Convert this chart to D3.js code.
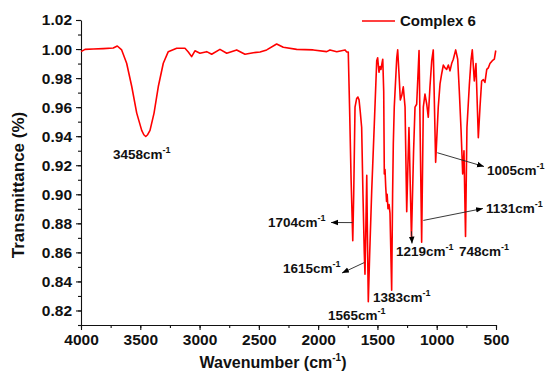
<!DOCTYPE html>
<html>
<head>
<meta charset="utf-8">
<script src="https://cdn.jsdelivr.net/npm/d3@7"></script>
<style>
  body { margin: 0; background: #fff; }
  text { font-family: "Liberation Sans", Arial, sans-serif; font-weight: bold; }
</style>
</head>
<body>
<div id="chart"></div>
<script>
// spectrum (wavenumber cm-1, transmittance)
var wavenumber = [4000, 3966, 3896, 3812, 3728, 3694, 3657, 3615, 3572, 3530, 3488, 3470, 3454, 3438, 3418, 3384, 3348, 3306, 3264,
    3193, 3123, 3095, 3067, 3039, 2997, 2940, 2898, 2828, 2771, 2687, 2617, 2547, 2490, 2434, 2350, 2294, 2181,
    2041, 1928, 1900, 1843, 1773, 1759,
    1746, 1735, 1722, 1708, 1700, 1689, 1675, 1665, 1655, 1645, 1633, 1622, 1611, 1605, 1597, 1590, 1584, 1577,
    1565, 1548, 1526, 1506, 1498, 1487, 1478, 1470, 1462, 1455, 1447, 1442, 1436, 1430, 1423, 1418, 1411, 1402,
    1394, 1380, 1372, 1366, 1358, 1337, 1329, 1318, 1307, 1295, 1282, 1267, 1253, 1243, 1234, 1213, 1195, 1183,
    1169, 1149, 1127, 1113, 1099, 1084, 1071, 1057, 1042, 1029, 1009, 987, 972, 958, 944, 930, 916, 902, 888,
    874, 860, 840, 823, 810, 795, 781, 770, 757, 745, 725, 711, 700, 683, 669, 649, 635, 621, 607, 593, 578,
    565, 551, 531, 514, 502];
var transmittance = [0.9982, 0.9998, 1.0000, 1.0003, 1.0007, 1.0021, 0.9994, 0.9902, 0.9742, 0.9559, 0.9440, 0.9410,
    0.9398, 0.9410, 0.9440, 0.9559, 0.9742, 0.9902, 0.9982,
    1.0005, 1.0005, 0.9980, 0.9948, 0.9988, 0.9971, 0.9982, 0.9964, 0.9998, 0.9971, 0.9994, 0.9964, 0.9975, 0.9980,
    0.9994, 1.0035, 1.0012, 0.9998, 0.9994, 0.9982, 0.9994, 0.9982, 0.9994, 0.9980,
    0.998, 0.960, 0.910, 0.868, 0.900, 0.960, 0.966, 0.967, 0.965, 0.957, 0.946, 0.900, 0.860, 0.845, 0.880, 0.913,
    0.870, 0.826, 0.860, 0.903, 0.949, 0.992, 0.994, 0.984, 0.988, 0.986, 0.990, 0.993, 0.971, 0.914, 0.917, 0.905,
    0.895, 0.900, 0.890, 0.893, 0.887, 0.834, 0.900, 0.935, 0.960, 0.994, 0.9994, 0.983, 0.965, 0.968, 0.974, 0.960,
    0.888, 0.920, 0.946, 0.870, 0.930, 0.960, 0.962, 0.999, 0.867, 0.960, 0.969, 0.962, 0.953, 0.974, 0.992, 0.9994,
    0.922, 0.960, 0.976, 0.983, 0.989, 0.987, 0.986, 0.989, 0.985, 0.990, 0.993, 0.9994, 0.993, 0.972, 0.945, 0.914,
    0.930, 0.871, 0.946, 0.975, 0.992, 0.9994, 0.978, 0.990, 0.939, 0.960, 0.978, 0.979, 0.977, 0.986, 0.987, 0.990,
    0.992, 0.993, 0.999];

var xTicks = [4000, 3500, 3000, 2500, 2000, 1500, 1000, 500];
var yTicks = [0.82, 0.84, 0.86, 0.88, 0.90, 0.92, 0.94, 0.96, 0.98, 1.00, 1.02];
var seriesName = 'Complex 6';

// peak labels
var peakLabels = ['3458', '1704', '1615', '1565', '1383', '1219', '1131', '1005', '748'];

var W = 555, H = 380;
var margin = {top: 20, bottom: 55, left: 81, right: 59};
var width = W - margin.left - margin.right,
    height = H - margin.top - margin.bottom;

var svg = d3.select('#chart').append('svg')
    .attr('width', W)
    .attr('height', H);

svg.append('defs').append('marker')
    .attr('id', 'arr')
    .attr('viewBox', '0 0 10 10')
    .attr('refX', 10)
    .attr('refY', 5)
    .attr('markerWidth', 7)
    .attr('markerHeight', 7)
    .attr('markerUnits', 'userSpaceOnUse')
    .attr('orient', 'auto')
    .append('path')
    .attr('d', 'M0,1L10,5L0,9Z')
    .attr('fill', '#000');

var g = svg.append('g')
    .attr('transform', 'translate(' + margin.left + ',' + margin.top + ')');

var x = d3.scaleLinear().domain([4000, 500]).range([0, width]);
var y = d3.scaleLinear().domain([0.81, 1.02]).range([height, 0]);

// minor ticks
var xMinor = d3.range(4000, 499, -250);
var yMinor = d3.range(81, 103, 1).map(function (d) { return d / 100; });

g.append('g')
    .attr('transform', 'translate(0,' + height + ')')
    .call(d3.axisBottom(x).tickValues(xMinor).tickSize(3).tickFormat(''))
    .call(function (s) { s.select('.domain').remove(); });

g.append('g')
    .call(d3.axisLeft(y).tickValues(yMinor).tickSize(3).tickFormat(''))
    .call(function (s) { s.select('.domain').remove(); });

var xAxis = g.append('g')
    .attr('class', 'x-axis')
    .attr('transform', 'translate(0,' + height + ')')
    .call(d3.axisBottom(x).tickValues(xTicks).tickSize(5).tickSizeOuter(0).tickPadding(4).tickFormat(d3.format('d')));

var yAxis = g.append('g')
    .attr('class', 'y-axis')
    .call(d3.axisLeft(y).tickValues(yTicks).tickSize(5).tickSizeOuter(0).tickPadding(4).tickFormat(d3.format('.2f')));

svg.selectAll('.x-axis text, .y-axis text')
    .attr('font-size', '15.5px')
    .attr('fill', '#111');
svg.selectAll('.tick line, .domain')
    .attr('stroke', '#111')
    .attr('stroke-width', 1.1);

// axis titles
var yLabel = g.append('text')
    .attr('x', -(185 - margin.top))
    .attr('y', 24 - margin.left)
    .attr('font-size', '17px')
    .attr('text-anchor', 'middle')
    .attr('transform', 'rotate(-90)')
    .attr('fill', '#111')
    .text('Transmittance (%)');

var xLabel = g.append('text')
    .attr('x', 273 - margin.left)
    .attr('y', height + 43)
    .attr('font-size', '16px')
    .attr('text-anchor', 'middle')
    .attr('fill', '#111');
xLabel.append('tspan').text('Wavenumber (cm');
xLabel.append('tspan').attr('font-size', '10px').attr('dy', -7).text('-1');
xLabel.append('tspan').attr('dy', 7).text(')');

// spectrum
var pts = wavenumber.map(function (w, i) { return [w, transmittance[i]]; });
var line = d3.line()
    .x(function (d) { return x(d[0]); })
    .y(function (d) { return y(d[1]); });

g.append('path')
    .datum(pts)
    .attr('d', line)
    .attr('fill', 'none')
    .attr('stroke', '#f00')
    .attr('stroke-width', 1.6)
    .attr('stroke-linejoin', 'round');

// legend
g.append('line')
    .attr('x1', 362 - margin.left).attr('x2', 395 - margin.left)
    .attr('y1', 21 - margin.top).attr('y2', 21 - margin.top)
    .attr('stroke', '#f00')
    .attr('stroke-width', 1.5);
g.append('text')
    .attr('x', 400 - margin.left)
    .attr('y', 26 - margin.top)
    .attr('font-size', '15px')
    .attr('fill', '#111')
    .text(seriesName);

// peak annotations: label position in the frame of the svg
var labelPos = [[113, 159], [268, 227], [283, 273], [328, 320], [373, 302], [396, 256], [486, 213], [487, 175], [459, 256]];
peakLabels.forEach(function (p, i) {
    var t = svg.append('text')
        .attr('x', labelPos[i][0])
        .attr('y', labelPos[i][1])
        .attr('font-size', '13.5px')
        .attr('fill', '#111');
    t.append('tspan').text(p + 'cm');
    t.append('tspan').attr('font-size', '9px').attr('dy', -6).text('-1');
});

// arrows from the peaks to the labels [w, v, x2, y2]
var arrows = [[1710, 0.8805, 331, 222.5], [1611, 0.853, 342, 273], [1213, 0.8745, 412, 243.5],
    [1113, 0.882, 483, 208.5], [995, 0.9286, 484, 166.5]];
arrows.forEach(function (a) {
    svg.append('line')
        .attr('x1', margin.left + x(a[0]))
        .attr('y1', margin.top + y(a[1]))
        .attr('x2', a[2])
        .attr('y2', a[3])
        .attr('stroke', '#222')
        .attr('stroke-width', 0.9)
        .attr('marker-end', 'url(#arr)');
});
</script>
</body>
</html>
